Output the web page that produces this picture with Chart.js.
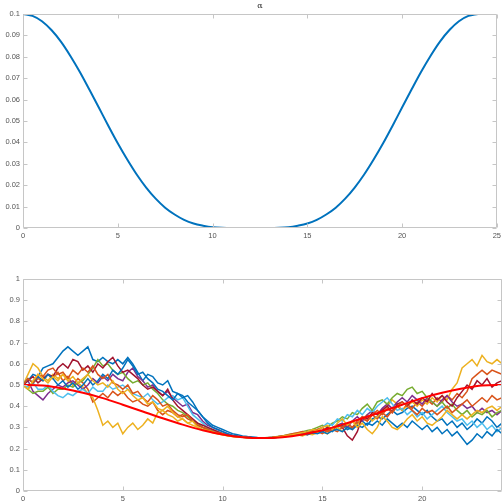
<!DOCTYPE html>
<html>
<head>
<meta charset="utf-8">
<script src="https://cdn.jsdelivr.net/npm/chart.js@4.4.1/dist/chart.umd.min.js"></script>
<style>
    html, body { margin: 0; padding: 0; background: #fff; }
    body { width: 504px; height: 501px; position: relative; overflow: hidden; }
    canvas { position: absolute; left: 0; }
    #graficaAlfa { top: 0; }
    #graficaRutas { top: 250px; }
</style>
</head>
<body>
<canvas id="graficaAlfa" width="504" height="250"></canvas>
<canvas id="graficaRutas" width="504" height="251"></canvas>
<script>
// grafica de arriba: alfa(t), leida cada 0.5
const pasoAlfa = 0.5;
const alfa = [
    0.1000, 0.0991, 0.0966, 0.0925, 0.0871, 0.0804, 0.0729, 0.0647, 0.0563, 0.0478,
    0.0396, 0.0320, 0.0250, 0.0189, 0.0137, 0.0095, 0.0063, 0.0038, 0.0021, 0.0011,
    0.0004, 0.0001, 0, 0, 0, 0, 0, 0.0001, 0.0004, 0.0011,
    0.0021, 0.0038, 0.0063, 0.0095, 0.0137, 0.0189, 0.0250, 0.0320, 0.0396, 0.0478,
    0.0563, 0.0647, 0.0729, 0.0804, 0.0871, 0.0925, 0.0966, 0.0991, 0.1000
];
const ticksXArriba = [0, 5, 10, 15, 20, 25];
const ticksYArriba = [0, 0.01, 0.02, 0.03, 0.04, 0.05, 0.06, 0.07, 0.08, 0.09, 0.1];

// grafica de abajo: media (roja), leida cada 1
const pasoMedia = 1;
const media = [
    0.500, 0.498, 0.483, 0.463, 0.438, 0.407, 0.375, 0.343, 0.313, 0.287, 0.267, 0.254, 0.250,
    0.254, 0.267, 0.287, 0.313, 0.343, 0.375, 0.407, 0.438, 0.463, 0.483, 0.498, 0.500
];

// trayectorias, leidas cada 0.25 (4 valores por unidad de t)
const pasoRutas = 0.25;
const rutaAzul1 = [
    .50, .52, .55, .54, .58, .59, .60, .63, .66, .68, .66, .64, .66, .68, .62, .61,
    .63, .61, .60, .62, .60, .63, .60, .56, .52, .55, .54, .51, .50, .52, .47, .46,
    .45, .42, .40, .38, .35, .33, .31, .30, .29, .28, .27, .265, .26, .257, .255, .252,
    .251, .25, .252, .254, .256, .26, .262, .265, .27, .275, .268, .28, .285, .29, .28, .30,
    .31, .29, .30, .32, .33, .31, .34, .35, .34, .36, .38, .36, .37, .39, .40, .38,
    .36, .38, .35, .33, .34, .31, .33, .30, .32, .29, .31, .34, .32, .35, .33, .30, .32
];
const rutaNaranja1 = [
    .50, .48, .51, .53, .52, .55, .53, .56, .52, .54, .50, .53, .51, .48, .42, .44,
    .46, .44, .47, .45, .47, .44, .42, .43, .41, .40, .42, .38, .36, .38, .37, .35,
    .36, .34, .33, .31, .30, .295, .285, .28, .27, .265, .26, .258, .255, .253, .251, .25,
    .25, .251, .252, .255, .257, .26, .262, .268, .27, .265, .275, .28, .27, .285, .29, .28,
    .30, .31, .29, .32, .34, .33, .36, .34, .37, .35, .38, .40, .38, .41, .39, .42,
    .40, .43, .41, .44, .42, .45, .43, .46, .44, .47, .53, .55, .57, .55, .57, .56, .55
];
const rutaAmarilla1 = [
    .50, .55, .60, .58, .54, .52, .55, .53, .55, .52, .50, .51, .49, .46, .44, .38,
    .31, .33, .30, .32, .27, .30, .32, .29, .31, .34, .32, .37, .38, .36, .35, .33,
    .34, .32, .31, .30, .29, .285, .275, .27, .265, .26, .257, .255, .253, .252, .25, .25,
    .25, .25, .251, .253, .255, .258, .262, .265, .26, .27, .265, .275, .28, .27, .29, .30,
    .28, .30, .33, .31, .34, .36, .33, .35, .38, .40, .43, .41, .38, .40, .42, .40,
    .43, .41, .44, .42, .45, .43, .48, .51, .58, .60, .62, .59, .64, .61, .60, .62, .60
];
const rutaMorada = [
    .50, .52, .47, .45, .43, .46, .48, .50, .49, .51, .52, .50, .48, .50, .53, .51,
    .54, .52, .55, .53, .52, .56, .58, .54, .52, .49, .50, .47, .45, .47, .44, .42,
    .40, .41, .37, .36, .33, .31, .30, .29, .28, .27, .262, .258, .255, .253, .251, .25,
    .25, .251, .253, .256, .26, .262, .266, .27, .275, .27, .28, .29, .28, .295, .30, .31,
    .32, .30, .33, .35, .33, .36, .38, .36, .39, .41, .39, .42, .44, .42, .45, .43,
    .41, .44, .42, .40, .43, .45, .42, .40, .41, .39, .40, .37, .39, .37, .38, .36, .38
];
const rutaVerde = [
    .50, .48, .46, .47, .47, .49, .46, .48, .48, .50, .49, .51, .52, .55, .58, .62,
    .59, .60, .57, .55, .56, .53, .51, .52, .50, .51, .48, .46, .43, .41, .40, .38,
    .37, .35, .33, .32, .30, .29, .285, .28, .27, .265, .26, .257, .255, .252, .251, .25,
    .25, .252, .254, .257, .26, .265, .27, .272, .28, .285, .29, .30, .31, .30, .32, .33,
    .35, .34, .37, .36, .39, .41, .38, .42, .43, .41, .44, .46, .45, .48, .49, .46,
    .47, .44, .42, .40, .42, .39, .41, .38, .36, .38, .35, .37, .36, .38, .35, .37, .38
];
const rutaCeleste = [
    .50, .49, .51, .48, .48, .50, .47, .45, .44, .46, .45, .47, .48, .46, .49, .47,
    .47, .50, .48, .49, .50, .48, .46, .45, .44, .46, .43, .41, .42, .44, .45, .43,
    .44, .40, .36, .34, .32, .30, .29, .28, .27, .265, .26, .257, .254, .252, .25, .25,
    .25, .25, .252, .254, .257, .26, .264, .268, .275, .28, .29, .285, .30, .32, .31, .34,
    .33, .36, .35, .38, .36, .39, .37, .40, .42, .44, .41, .38, .39, .36, .38, .35,
    .37, .34, .36, .38, .40, .37, .35, .33, .34, .31, .33, .30, .32, .29, .31, .28, .30
];
const rutaGranate = [
    .50, .52, .54, .51, .53, .55, .54, .58, .60, .58, .62, .61, .57, .59, .56, .60,
    .58, .61, .63, .59, .56, .57, .55, .53, .50, .48, .49, .47, .45, .48, .43, .40,
    .38, .36, .34, .32, .31, .30, .29, .28, .27, .265, .26, .257, .255, .252, .25, .25,
    .25, .25, .252, .255, .258, .26, .265, .27, .265, .28, .275, .29, .28, .30, .29, .31,
    .30, .26, .24, .28, .35, .34, .37, .36, .38, .40, .37, .41, .42, .40, .43, .41,
    .44, .42, .46, .43, .45, .42, .40, .44, .47, .50, .48, .52, .50, .53, .49, .51, .52
];
const rutaAzul2 = [
    .50, .53, .51, .54, .52, .55, .53, .50, .52, .49, .51, .48, .50, .53, .50, .52,
    .55, .53, .57, .55, .58, .62, .59, .55, .56, .53, .51, .48, .47, .45, .43, .46,
    .44, .45, .42, .38, .35, .32, .30, .29, .28, .27, .262, .258, .255, .252, .25, .25,
    .25, .25, .251, .253, .255, .258, .262, .265, .27, .265, .275, .27, .28, .27, .285, .29,
    .28, .30, .29, .31, .30, .32, .31, .33, .31, .34, .32, .30, .32, .30, .33, .31,
    .29, .31, .28, .30, .27, .29, .26, .28, .25, .22, .24, .27, .25, .28, .26, .29, .27
];
const rutaNaranja2 = [
    .50, .53, .51, .55, .54, .57, .58, .55, .56, .53, .57, .55, .58, .56, .59, .55,
    .53, .55, .51, .50, .48, .50, .46, .47, .44, .42, .45, .43, .40, .41, .38, .36,
    .35, .36, .33, .31, .30, .29, .28, .275, .27, .262, .258, .255, .253, .251, .25, .25,
    .25, .251, .253, .256, .26, .264, .27, .275, .28, .27, .285, .29, .30, .28, .29, .31,
    .30, .32, .30, .33, .35, .33, .36, .38, .36, .39, .37, .40, .42, .40, .38, .36,
    .39, .37, .38, .36, .38, .40, .37, .39, .41, .43, .40, .42, .44, .42, .45, .43, .44
];
const rutaAmarilla2 = [
    .50, .48, .52, .55, .53, .51, .54, .52, .55, .52, .54, .51, .53, .55, .52, .50,
    .51, .49, .52, .48, .46, .48, .45, .43, .44, .41, .42, .39, .38, .40, .37, .35,
    .34, .32, .33, .30, .29, .285, .28, .27, .265, .26, .257, .255, .253, .251, .25, .25,
    .25, .251, .252, .255, .258, .262, .265, .27, .275, .28, .29, .285, .30, .31, .29, .32,
    .34, .31, .33, .30, .32, .29, .27, .30, .35, .33, .30, .29, .31, .34, .36, .33,
    .35, .32, .31, .33, .35, .38, .36, .34, .36, .34, .36, .38, .37, .39, .40, .38, .40
];
const ticksXAbajo = [0, 5, 10, 15, 20];
const ticksYAbajo = [0, 0.1, 0.2, 0.3, 0.4, 0.5, 0.6, 0.7, 0.8, 0.9, 1];

// colores por defecto de MATLAB, en el orden en que se dibujan
const rutas = [
    { valores: rutaAzul1, color: "#0072BD" },
    { valores: rutaNaranja1, color: "#D95319" },
    { valores: rutaAmarilla1, color: "#EDB120" },
    { valores: rutaMorada, color: "#7E2F8E" },
    { valores: rutaVerde, color: "#77AC30" },
    { valores: rutaCeleste, color: "#4DBEEE" },
    { valores: rutaGranate, color: "#A2142F" },
    { valores: rutaAzul2, color: "#0072BD" },
    { valores: rutaNaranja2, color: "#D95319" },
    { valores: rutaAmarilla2, color: "#EDB120" },
];

const colorEje = "#c6c6c6";
const colorTexto = "#555555";
const fuente = { family: "'Liberation Sans', Arial, sans-serif", size: 7.5 };

function aPuntos(valores, paso) {
    return valores.map((v, i) => ({ x: i * paso, y: v }));
}

// caja alrededor de los ejes con marcas hacia dentro, como en MATLAB
const cajaEjes = {
    id: "cajaEjes",
    afterDraw(chart, args, opts) {
        const { ctx, chartArea: a, scales } = chart;
        const l = Math.round(a.left) + 0.5;
        const r = Math.round(a.right) - 0.5;
        const t = Math.round(a.top) + 0.5;
        const b = Math.round(a.bottom) - 0.5;
        ctx.save();
        ctx.strokeStyle = colorEje;
        ctx.lineWidth = 1;
        ctx.beginPath();
        ctx.rect(l, t, r - l, b - t);
        scales.x.ticks.forEach(tick => {
            const px = Math.round(scales.x.getPixelForValue(tick.value)) + 0.5;
            ctx.moveTo(px, b); ctx.lineTo(px, b - 4);
            ctx.moveTo(px, t); ctx.lineTo(px, t + 4);
        });
        scales.y.ticks.forEach(tick => {
            const py = Math.round(scales.y.getPixelForValue(tick.value)) + 0.5;
            ctx.moveTo(l, py); ctx.lineTo(l + 4, py);
            ctx.moveTo(r, py); ctx.lineTo(r - 4, py);
        });
        ctx.stroke();
        if (opts.titulo) {
            ctx.fillStyle = "#222";
            ctx.font = "8px 'DejaVu Serif', serif";
            ctx.textAlign = "center";
            ctx.textBaseline = "middle";
            ctx.fillText(opts.titulo, (a.left + a.right) / 2, a.top - 8);
        }
        ctx.restore();
    }
};

function ejes(xMax, xTicks, yMax, yTicks, altoX) {
    return {
        x: {
            type: "linear", min: 0, max: xMax,
            afterBuildTicks: s => { s.ticks = xTicks.map(v => ({ value: v })); },
            afterFit: s => { s.height = altoX; },
            grid: { display: false, drawTicks: false },
            border: { display: false },
            ticks: { color: colorTexto, font: fuente, padding: 3, maxRotation: 0, autoSkip: false, callback: v => String(v) }
        },
        y: {
            type: "linear", min: 0, max: yMax,
            afterBuildTicks: s => { s.ticks = yTicks.map(v => ({ value: v })); },
            afterFit: s => { s.width = 23; },
            grid: { display: false, drawTicks: false },
            border: { display: false },
            ticks: { color: colorTexto, font: fuente, padding: 3, autoSkip: false, callback: v => String(v) }
        }
    };
}

new Chart(document.getElementById("graficaAlfa"), {
    type: "line",
    data: {
        datasets: [{
            data: aPuntos(alfa, pasoAlfa),
            borderColor: "#0072BD",
            borderWidth: 2,
            pointRadius: 0,
            cubicInterpolationMode: "monotone",
            fill: false,
        }]
    },
    options: {
        responsive: false,
        animation: false,
        devicePixelRatio: 1,
        layout: { padding: { top: 14, right: 2, left: 0, bottom: 0 } },
        scales: ejes(25, ticksXArriba, 0.1, ticksYArriba, 22),
        plugins: {
            legend: { display: false },
            tooltip: { enabled: false },
            cajaEjes: { titulo: "α" }
        }
    },
    plugins: [cajaEjes]
});

const datasetsRutas = rutas.map((ruta, i) => ({
    data: aPuntos(ruta.valores, pasoRutas),
    borderColor: ruta.color,
    borderWidth: 1.5,
    pointRadius: 0,
    tension: 0,
    fill: false,
    order: rutas.length - i,
}));
datasetsRutas.push({
    data: aPuntos(media, pasoMedia),
    borderColor: "#FF0000",
    borderWidth: 2,
    pointRadius: 0,
    cubicInterpolationMode: "monotone",
    fill: false,
    order: 0,
});

new Chart(document.getElementById("graficaRutas"), {
    type: "line",
    data: { datasets: datasetsRutas },
    options: {
        responsive: false,
        animation: false,
        devicePixelRatio: 1,
        layout: { padding: { top: 29, right: 2, left: 0, bottom: 0 } },
        scales: ejes(24, ticksXAbajo, 1, ticksYAbajo, 10),
        plugins: {
            legend: { display: false },
            tooltip: { enabled: false },
            cajaEjes: {}
        }
    },
    plugins: [cajaEjes]
});
</script>
</body>
</html>
